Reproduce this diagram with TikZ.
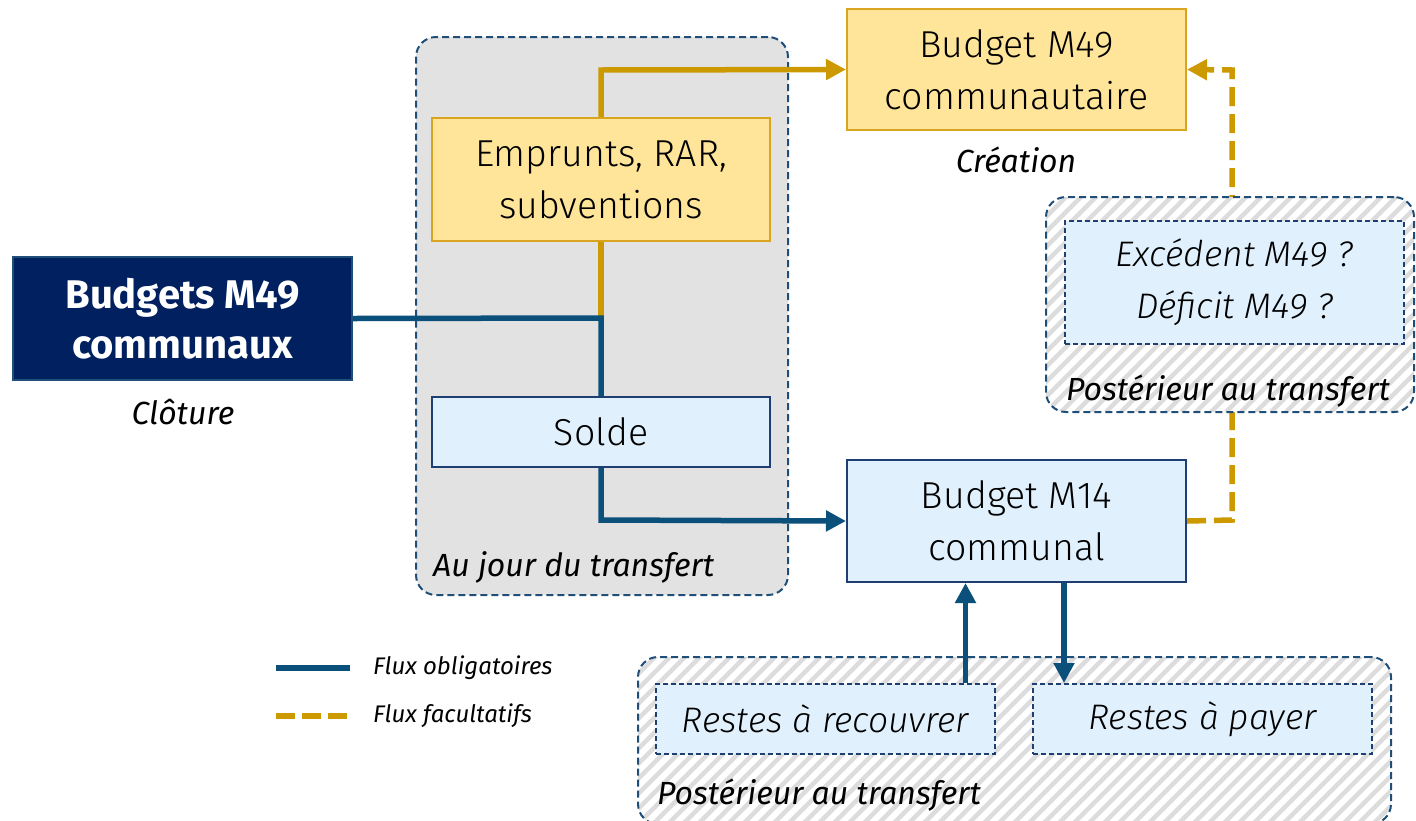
\documentclass[tikz,border=0pt]{standalone}
\usepackage{fontspec}
\setmainfont{Fira Sans Light}[ItalicFont={Fira Sans Light Italic},BoldFont={Fira Sans Bold}]
\newfontfamily\regit{Fira Sans Italic}
\usetikzlibrary{arrows.meta}

\definecolor{navy}{HTML}{002060}
\definecolor{navyline}{HTML}{1F3F73}
\definecolor{flowblue}{HTML}{0B4F7B}
\definecolor{gold}{HTML}{CC9900}
\definecolor{goldedge}{HTML}{D9A521}
\definecolor{paleyellow}{HTML}{FFE599}
\definecolor{paleblue}{HTML}{E0F1FD}
\definecolor{groupgray}{HTML}{E2E2E2}
\definecolor{groupedge}{HTML}{1F4E79}
\definecolor{hatchgray}{HTML}{DCDCDC}

\tikzset{
  box/.style={draw, line width=2pt, inner sep=0pt, align=center,
    font=\fontsize{37.5}{52}\selectfont},
  yellowbox/.style={box, fill=paleyellow, draw=goldedge},
  bluebox/.style={box, fill=paleblue, draw=navyline},
  dashbox/.style={box, fill=paleblue, draw=navyline, dash pattern=on 5pt off 3pt,
    font=\fontsize{35.5}{52}\selectfont\itshape},
  groupbox/.style={draw=groupedge, line width=2pt, dash pattern=on 7pt off 4pt,
    rounded corners=20pt, inner sep=0pt},
  hatched/.style={fill=white, path picture={
    \foreach \k in {0,15,...,1400}{
      \draw[hatchgray, solid, line width=4.5pt]
        ([xshift=\k pt-420pt]path picture bounding box.south west) -- ++(440,-440);
    }}},
  label/.style={inner sep=0pt, font=\fontsize{32}{38}\selectfont\regit},
  legendtext/.style={inner sep=0pt, anchor=west, font=\fontsize{24}{28}\selectfont\regit},
  mandatory/.style={flowblue, line width=5.5pt,
    -{Triangle[length=20pt, width=20pt]}},
  mandatoryplain/.style={flowblue, line width=5.5pt},
  optional/.style={gold, line width=5.5pt,
    -{Triangle[length=20pt, width=20pt]}},
  optionalplain/.style={gold, line width=5.5pt},
  optionaldashed/.style={gold, line width=5.5pt, dash pattern=on 19pt off 8pt,
    -{Triangle[length=20pt, width=20pt]}},
}

\begin{document}
\begin{tikzpicture}[x=1pt, y=-1pt]
\useasboundingbox (0,0) rectangle (1416,820);

% grey group: operations on the day of the transfer
\node[groupbox, fill=groupgray, minimum width=372pt, minimum height=558pt]
  (dayof) at (602,316) {};
\node[label, anchor=west] (dayoflabel) at (433,567) {Au jour du transfert};

% source budgets
\node[box, fill=navy, draw=groupedge, text=white, minimum width=339pt, minimum height=123pt,
  font=\fontsize{40}{50}\selectfont\bfseries] (m49) at (182.5,318.5) {Budgets M49\\communaux};
\node[label] (cloture) at (183,412) {Clôture};

% target budgets
\node[yellowbox, minimum width=339pt, minimum height=121pt] (comm) at (1016.5,69.5)
  {Budget M49\\communautaire};
\node[label] (creation) at (1016,160) {Création};
\node[bluebox, minimum width=339pt, minimum height=122pt] (m14) at (1016.5,521)
  {Budget M14\\communal};

% items moved on the day of the transfer
\node[yellowbox, minimum width=338pt, minimum height=123pt] (emp) at (601,179.5)
  {Emprunts, RAR,\\subventions};
\node[bluebox, minimum width=338pt, minimum height=70pt] (solde) at (601,432) {Solde};

\coordinate (junction) at (601,318);
\coordinate (upbend) at (601,70);
\coordinate (downbend) at (601,520);
\coordinate (sidelow) at (1232,520);
\coordinate (sidehigh) at (1232,70);

% flows
\draw[optionaldashed] (m14.east) -- (sidelow) -- (sidehigh) -- (comm.east);
\draw[optionalplain] (emp.south) -- (junction);
\draw[optional] (emp.north) -- (upbend) -- (comm.west);
\draw[mandatoryplain] (m49.east) -- (junction) -- (solde.north);
\draw[mandatory] (solde.south) -- (downbend) -- (m14.west);

% later operations: result of the M49 budget
\node[groupbox, hatched, minimum width=368pt, minimum height=215pt] (latertop) at (1230,304.5) {};
\node[dashbox, minimum width=339pt, minimum height=123pt] (result) at (1234.5,282.5)
  {Excédent M49 ?\\Déficit M49 ?};
\node[label, anchor=west] (latertoplabel) at (1066,391) {Postérieur au transfert};

% later operations: remaining receivables and payables
\node[groupbox, hatched, minimum width=753pt, minimum height=167pt] (laterbottom) at (1014.5,740.5) {};
\node[dashbox, minimum width=339pt, minimum height=70pt] (rar) at (825.5,719) {Restes à recouvrer};
\node[dashbox, minimum width=339pt, minimum height=70pt] (rap) at (1202.5,719) {Restes à payer};
\node[label, anchor=west] (laterbottomlabel) at (657,795) {Postérieur au transfert};

\draw[mandatory] ([xshift=140pt]rar.north) -- ([xshift=140pt]rar.north |- m14.south);
\draw[mandatory] ([xshift=47.5pt]m14.south) -- ([xshift=47.5pt]m14.south |- rap.north);

% legend
\coordinate (legAa) at (276,668);
\coordinate (legAb) at (350,668);
\coordinate (legBa) at (276,716);
\coordinate (legBb) at (350,716);
\draw[mandatoryplain] (legAa) -- (legAb);
\draw[gold, line width=5.5pt, dash pattern=on 19pt off 7pt] (legBa) -- (legBb);
\node[legendtext] (legA) at (373,668) {Flux obligatoires};
\node[legendtext] (legB) at (373,716) {Flux facultatifs};
\end{tikzpicture}
\end{document}
